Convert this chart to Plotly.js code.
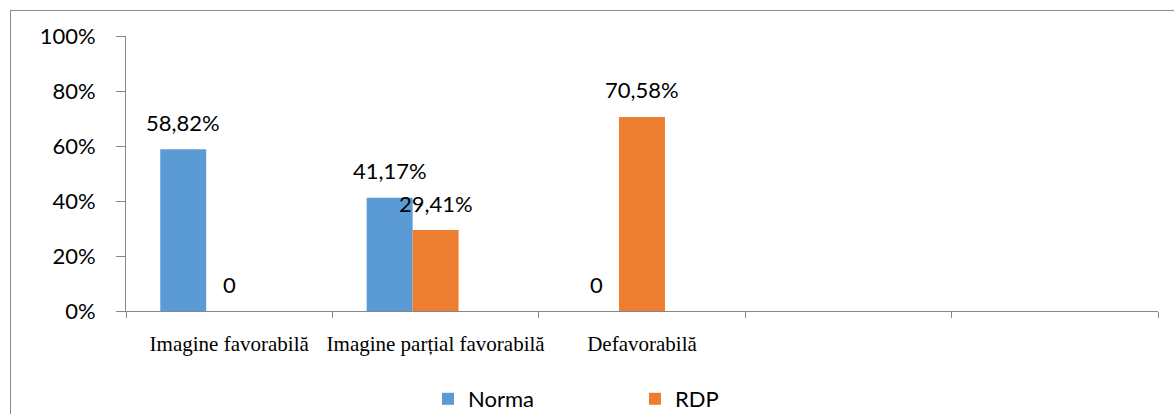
<!DOCTYPE html>
<html>
<head>
<meta charset="utf-8">
<script src="https://cdn.plot.ly/plotly-3.0.1.min.js"></script>
<style>
  html, body { margin: 0; padding: 0; background: #fff; }
  #wrap { position: relative; width: 1174px; height: 414px; overflow: hidden; }
  #chart { width: 1174px; height: 414px; }
  #frame { position: absolute; left: 10px; top: 10px; width: 1300px; height: 600px;
           border: 1.5px solid #8c8c8c; pointer-events: none; box-sizing: border-box; }
</style>
</head>
<body>
<div id="wrap">
  <div id="chart"></div>
  <div id="frame"></div>
</div>
<script>
// ---- data ----
const categories = ["Imagine favorabilă", "Imagine parțial favorabilă", "Defavorabilă"];
const slotLabels = ["Imagine favorabilă", "Imagine parțial favorabilă", "Defavorabilă", " ", "  "];
const seriesNames = ["Norma", "RDP"];
const normaValues = [0.5882, 0.4117, 0];
const rdpValues = [0, 0.2941, 0.7058];
const normaLabels = ["58,82%", "41,17%", "0"];
const rdpLabels = ["0", "29,41%", "70,58%"];
const emptySeries = [null, null, null, null, null];

// ---- styling ----
const sansFont = "Lato, 'Open Sans', sans-serif";
const serifFont = "'Liberation Serif', 'Times New Roman', serif";
const axisGrey = "#868686";
const bargap = 0.332;
const nSlots = 3;
const barW = (1 - bargap) / nSlots;

const traces = [
  { type: "bar", name: seriesNames[0], x: categories, y: normaValues,
    marker: { color: "#5B9BD5", line: { width: 0 } }, hoverinfo: "skip" },
  { type: "bar", name: seriesNames[1], x: categories, y: rdpValues,
    marker: { color: "#ED7D31", line: { width: 0 } }, hoverinfo: "skip" },
  { type: "bar", name: "", x: slotLabels, y: emptySeries, showlegend: false,
    marker: { color: "rgba(0,0,0,0)" }, hoverinfo: "skip" }
];

const annotations = [];
categories.forEach((c, i) => {
  annotations.push({ xref: "x", yref: "y", x: i - barW, y: normaValues[i], text: normaLabels[i],
    showarrow: false, yshift: 27, font: { family: sansFont, size: 22, color: "#000" } });
  annotations.push({ xref: "x", yref: "y", x: i, y: rdpValues[i], text: rdpLabels[i],
    showarrow: false, yshift: 27, font: { family: sansFont, size: 22, color: "#000" } });
});

const layout = {
  width: 1174, height: 414,
  margin: { l: 126, r: 16, t: 36, b: 103, autoexpand: false },
  paper_bgcolor: "#fff", plot_bgcolor: "#fff",
  barmode: "group", bargap: bargap, bargroupgap: 0,
  showlegend: true,
  legend: { orientation: "h", x: 0.2926, xanchor: "left", y: -0.32, yanchor: "middle",
    entrywidth: 162, entrywidthmode: "pixels",
    font: { family: sansFont, size: 22, color: "#000" }, traceorder: "normal" },
  xaxis: { type: "category", categoryorder: "array", categoryarray: slotLabels,
    range: [-0.5, 4.5], fixedrange: true, automargin: false, tickangle: 0,
    showline: true, linecolor: axisGrey, linewidth: 1,
    ticks: "outside", tickson: "boundaries", ticklen: 6, tickcolor: axisGrey, tickwidth: 1,
    ticklabelstandoff: 14,
    showgrid: false, zeroline: false,
    tickfont: { family: serifFont, size: 21, color: "#000" } },
  yaxis: { range: [0, 1], dtick: 0.2, tickformat: ".0%", fixedrange: true, automargin: false,
    showline: true, linecolor: axisGrey, linewidth: 1,
    ticks: "outside", ticklen: 9, tickcolor: axisGrey, tickwidth: 1,
    ticklabelstandoff: 16,
    showgrid: false, zeroline: false,
    tickfont: { family: sansFont, size: 22, color: "#000" } },
  annotations: annotations
};

Plotly.newPlot("chart", traces, layout, { displayModeBar: false, staticPlot: true });
</script>
</body>
</html>
